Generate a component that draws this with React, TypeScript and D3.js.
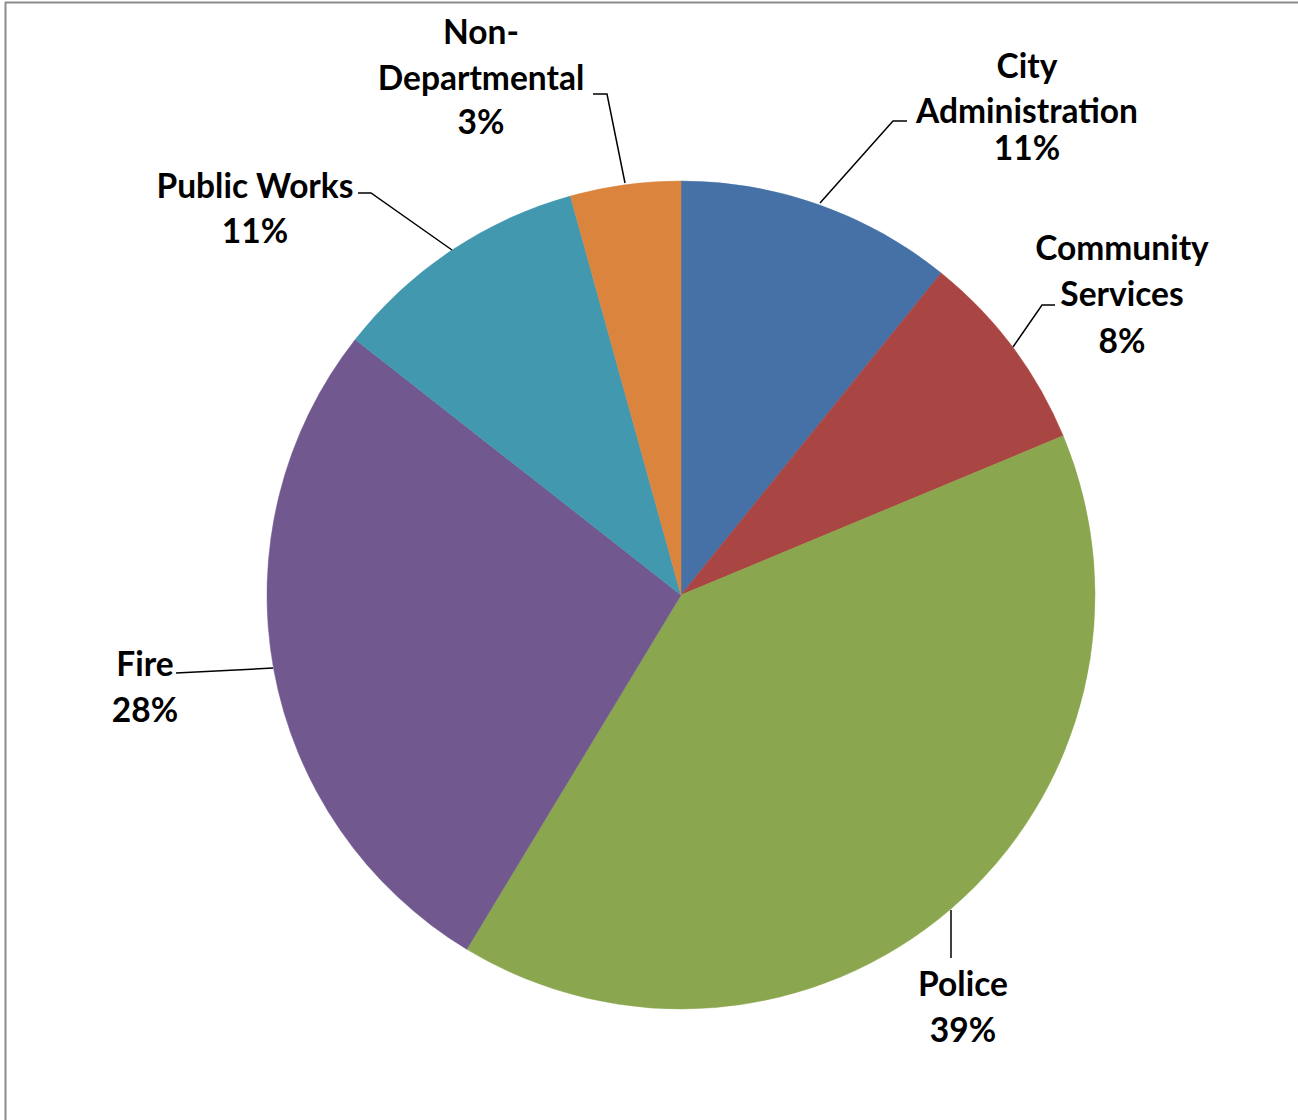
import React from "react";
import * as d3 from "d3";

const categories = [
  "City Administration",
  "Community Services",
  "Police",
  "Fire",
  "Public Works",
  "Non-Departmental",
];
const values = [10.8, 7.9, 39.9, 26.9, 10.1, 4.3];
const percentLabels = ["11%", "8%", "39%", "28%", "11%", "3%"];
const colors = ["#4571A6", "#A94643", "#8AA64E", "#71588F", "#4298AF", "#DB843D"];

// label layout: lines of text with centers, leader polyline
const labelLines = [
  [["City", 1027, 65], ["Administration", 1027, 110], [percentLabels[0], 1027, 147]],
  [["Community", 1122, 247], ["Services", 1122, 293], [percentLabels[1], 1122, 340]],
  [["Police", 963, 983], [percentLabels[2], 963, 1029]],
  [["Fire", 145, 663], [percentLabels[3], 145, 709]],
  [["Public Works", 255, 185], [percentLabels[4], 255, 230]],
  [["Non-", 481, 31], ["Departmental", 481, 77], [percentLabels[5], 481, 121]],
];
const leaders = [
  [[907, 121], [893, 121], [820, 203]],
  [[1055, 305], [1042, 305], [1013, 347]],
  [[951, 958], [951, 910]],
  [[176, 673], [273, 668]],
  [[358, 193], [371, 193], [452, 250]],
  [[593, 94], [607, 94], [625, 183]],
];

export default function App() {
  const W = 1298, H = 1120;
  const cx = 681, cy = 595, r = 414;
  const pie = d3.pie<number>().sort(null).value((d) => d);
  const arcs = pie(values);
  const arc = d3.arc<d3.PieArcDatum<number>>().innerRadius(0).outerRadius(r);
  const line = d3.line();
  return (
    <svg
      width={W}
      height={H}
      style={{ position: "absolute", left: 0, top: 0, background: "#fff" }}
    >
      <line x1={5} y1={2.5} x2={W} y2={2.5} stroke="#8c8c8c" strokeWidth={2} />
      <line x1={5.5} y1={2} x2={5.5} y2={H} stroke="#8c8c8c" strokeWidth={2} />
      <g transform={`translate(${cx},${cy})`}>
        {arcs.map((a, i) => (
          <path key={categories[i]} d={arc(a) || ""} fill={colors[i]} stroke={colors[i]} strokeWidth={0.5} />
        ))}
      </g>
      {leaders.map((pts, i) => (
        <path key={"l" + i} d={line(pts as [number, number][]) || ""} fill="none" stroke="#000" strokeWidth={1.5} />
      ))}
      <g fontFamily="Lato, 'Open Sans', sans-serif" fontWeight={700} fontSize={33.5} fill="#000" textAnchor="middle">
        {labelLines.map((lines, i) =>
          lines.map((l, j) => (
            <text key={i + "-" + j} x={l[1] as number} y={l[2] as number} dominantBaseline="central">
              {l[0] as string}
            </text>
          ))
        )}
      </g>
    </svg>
  );
}
